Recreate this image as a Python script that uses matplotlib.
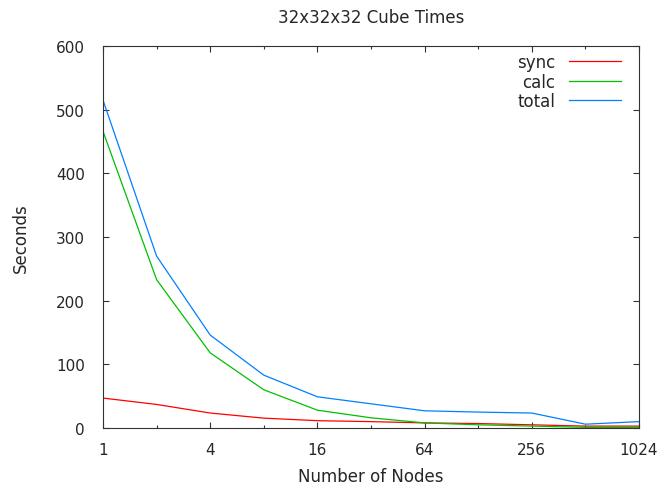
import matplotlib
matplotlib.use("Agg")
import matplotlib.pyplot as plt
from matplotlib.ticker import FixedLocator, FixedFormatter, NullFormatter

# data
nodes = [1, 2, 4, 8, 16, 32, 64, 128, 256, 512, 1024]
sync = [47, 37, 23.5, 15.5, 11.5, 10, 8, 7, 5, 3, 3]
calc = [466, 233, 118, 60, 28, 16, 8, 5, 3, 1, 1]
total = [515, 270, 146, 83, 49, 38, 27, 25, 23.5, 6, 10]

major_x = [1, 4, 16, 64, 256, 1024]
minor_x = [2, 8, 32, 128, 512]
y_ticks = [0, 100, 200, 300, 400, 500, 600]

txt = "#262626"
plt.rcParams["font.family"] = "DejaVu Sans"
plt.rcParams["font.size"] = 10

fig = plt.figure(figsize=(6.64, 4.89), dpi=100)
ax = fig.add_axes([103 / 664, 1 - 429 / 489, 536 / 664, 382 / 489])

lw = 0.9
ax.plot(nodes, sync, color="#ff0000", lw=lw, label="sync")
ax.plot(nodes, calc, color="#00c000", lw=lw, label="calc")
ax.plot(nodes, total, color="#0080ff", lw=lw, label="total")

ax.set_xscale("log", base=2)
ax.set_xlim(1, 1024)
ax.set_ylim(0, 600)
ax.xaxis.set_major_locator(FixedLocator(major_x))
ax.xaxis.set_major_formatter(FixedFormatter([str(v) for v in major_x]))
ax.xaxis.set_minor_locator(FixedLocator(minor_x))
ax.xaxis.set_minor_formatter(NullFormatter())
ax.yaxis.set_major_locator(FixedLocator(y_ticks))

ax.tick_params(which="both", direction="in", top=True, right=True,
               colors="#333333", labelcolor=txt, width=0.8)
ax.tick_params(which="major", length=4.5, labelsize=11)
ax.tick_params(axis="x", which="major", pad=10)
ax.tick_params(axis="y", which="major", pad=13)
ax.tick_params(which="minor", length=2.5)
for s in ax.spines.values():
    s.set_color("#333333")
    s.set_linewidth(0.8)

ax.set_title("32x32x32 Cube Times", color=txt, fontsize=12, pad=17)
ax.set_xlabel("Number of Nodes", color=txt, fontsize=12, labelpad=7)
ax.set_ylabel("Seconds", color=txt, fontsize=12, labelpad=19)

leg = ax.legend(loc="upper right", frameon=False, markerfirst=False,
                handlelength=3.1, handletextpad=0.85, labelspacing=0.1,
                fontsize=12, borderaxespad=0.2, bbox_to_anchor=(0.985, 1.008))
for t in leg.get_texts():
    t.set_color(txt)

fig.savefig("out.png", dpi=100)
